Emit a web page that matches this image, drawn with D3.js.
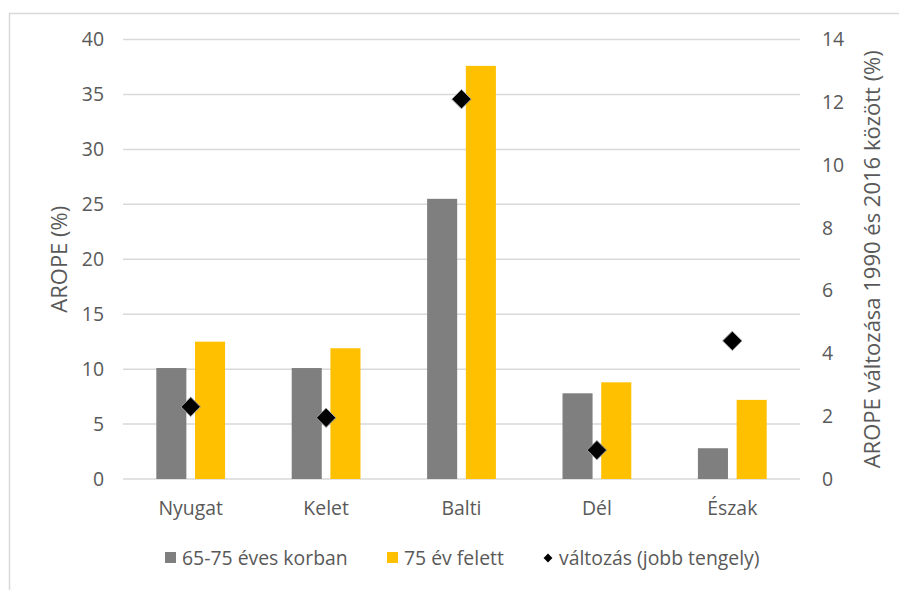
<!DOCTYPE html>
<html><head><meta charset="utf-8">
<script src="https://cdn.jsdelivr.net/npm/d3@7"></script>
<style>body{margin:0;background:#fff}svg{display:block}text{font-family:"Open Sans",sans-serif;fill:#595959}</style>
</head><body>
<script>
const categories = ["Nyugat","Kelet","Balti","Dél","Észak"];
const series1Name = "65-75 éves korban";
const series1 = [10.1,10.1,25.5,7.8,2.8];
const series2Name = "75 év felett";
const series2 = [12.5,11.9,37.6,8.8,7.2];
const series3Name = "változás (jobb tengely)";
const series3 = [2.3,1.95,12.1,0.92,4.4];
const leftTicks = [0,5,10,15,20,25,30,35,40];
const rightTicks = [0,2,4,6,8,10,12,14];
const leftTitle = "AROPE (%)";
const rightTitle = "AROPE változása 1990 és 2016 között (%)";

const W=899,H=590;
const m={l:123,r:99,t:39.5,b:111};
const svg=d3.select("body").append("svg").attr("width",W).attr("height",H);
svg.append("rect").attr("x",9.5).attr("y",13.5).attr("width",W).attr("height",H).attr("fill","none").attr("stroke","#d9d9d9").attr("stroke-width",1.5);

const x=d3.scaleBand().domain(categories).range([m.l,W-m.r]);
const yL=d3.scaleLinear().domain([0,40]).range([H-m.b,m.t]);
const yR=d3.scaleLinear().domain([0,14]).range([H-m.b,m.t]);

const fs=19.4, fsT=22;
const font="'Open Sans',sans-serif";

// gridlines
svg.append("g").selectAll("line").data(leftTicks).join("line")
 .attr("x1",m.l).attr("x2",W-m.r).attr("y1",d=>yL(d)).attr("y2",d=>yL(d))
 .attr("stroke","#d9d9d9").attr("stroke-width",1.5);

function styleAxis(g){
  g.select(".domain").remove();
  g.selectAll("text").style("font-size",fs+"px").style("fill","#595959").style("font-family",font);
}
svg.append("g").attr("transform",`translate(${m.l-19},0)`)
 .call(d3.axisLeft(yL).tickValues(leftTicks).tickSize(0).tickPadding(0)).call(styleAxis);
svg.append("g").attr("transform",`translate(${W-m.r+22},0)`)
 .call(d3.axisRight(yR).tickValues(rightTicks).tickSize(0).tickPadding(0)).call(styleAxis);
svg.append("g").attr("transform",`translate(0,${H-m.b+22})`)
 .call(d3.axisBottom(x).tickSize(0).tickPadding(0)).call(styleAxis);

// bars
const bw=x.bandwidth()*0.222, gap=x.bandwidth()*0.064;
svg.append("g").selectAll("rect").data(series1).join("rect")
 .attr("x",(d,i)=>x(categories[i])+x.bandwidth()/2-gap/2-bw).attr("width",bw)
 .attr("y",d=>yL(d)).attr("height",d=>yL(0)-yL(d)).attr("fill","#7f7f7f");
svg.append("g").selectAll("rect").data(series2).join("rect")
 .attr("x",(d,i)=>x(categories[i])+x.bandwidth()/2+gap/2).attr("width",bw)
 .attr("y",d=>yL(d)).attr("height",d=>yL(0)-yL(d)).attr("fill","#ffc000");

// diamonds
const dsym=d3.symbol().type(d3.symbolDiamond2).size(240);
svg.append("g").selectAll("path").data(series3).join("path")
 .attr("d",dsym)
 .attr("transform",(d,i)=>`translate(${x(categories[i])+x.bandwidth()/2},${yR(d)})`)
 .attr("fill","#000").attr("stroke","#a0a0a0").attr("stroke-width",1);

// axis titles
svg.append("text").attr("transform",`translate(59,${(yL(0)+yL(40))/2}) rotate(-90)`)
 .attr("text-anchor","middle").attr("dy","0.35em").style("font-size",fsT+"px").text(leftTitle);
svg.append("text").attr("transform",`translate(872,${(yL(0)+yL(40))/2}) rotate(-90)`)
 .attr("text-anchor","middle").attr("dy","0.35em").style("font-size",fsT+"px").text(rightTitle);

// legend
const ly=558;
const lg=svg.append("g");
lg.append("rect").attr("x",165).attr("y",ly-6).attr("width",11).attr("height",11).attr("fill","#7f7f7f");
lg.append("text").attr("x",182).attr("y",ly).attr("dy","0.35em").style("font-size",fs+"px").text(series1Name);
lg.append("rect").attr("x",387).attr("y",ly-6).attr("width",11).attr("height",11).attr("fill","#ffc000");
lg.append("text").attr("x",404).attr("y",ly).attr("dy","0.35em").style("font-size",fs+"px").text(series2Name);
lg.append("path").attr("d",d3.symbol().type(d3.symbolDiamond2).size(50)).attr("transform",`translate(548,${ly})`).attr("fill","#000");
lg.append("text").attr("x",559).attr("y",ly).attr("dy","0.35em").style("font-size",fs+"px").text(series3Name);
</script>
</body></html>
